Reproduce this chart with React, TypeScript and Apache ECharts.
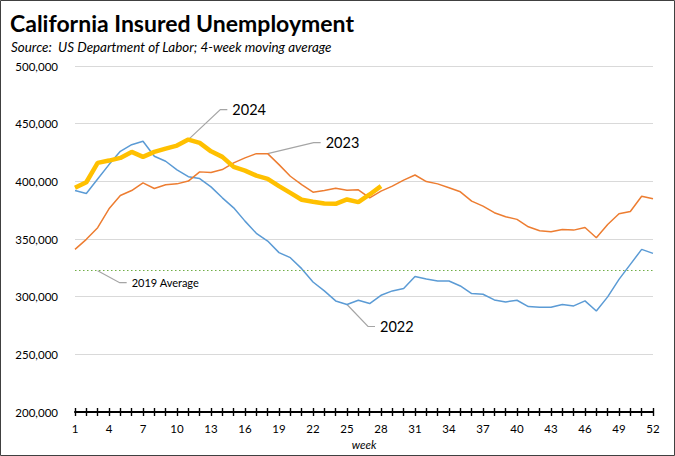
import React, { useEffect, useRef } from "react";
import * as echarts from "echarts";

const weeks: string[] = Array.from({ length: 52 }, (_, i) => String(i + 1));

const y2022 = [
  392000, 389500, 402000, 414500, 426000, 431800, 434700, 421700, 417400, 410000,
  404000, 402400, 395200, 385700, 377000, 365500, 354900, 348200, 338200, 333800,
  324300, 312700, 305000, 296300, 293200, 296900, 294000, 301200, 305000, 307000,
  317400, 315300, 313600, 313600, 309300, 302700, 302100, 297200, 295400, 296900,
  291400, 290800, 290800, 293200, 292000, 296300, 287600, 299800, 315000, 328000,
  341000, 337500,
];

const y2023 = [
  341000, 349700, 359800, 376200, 387700, 392000, 398700, 393800, 397000, 397800,
  400200, 408200, 407600, 410200, 416000, 420300, 424000, 424000, 414500, 404400,
  397200, 390600, 392000, 394000, 392300, 392600, 385700, 391500, 395800, 401000,
  405500, 399800, 397800, 394400, 390900, 382800, 378500, 372800, 369300, 367000,
  360600, 357200, 356300, 358300, 357700, 360000, 351100, 362600, 371900, 373900,
  387100, 384900,
];

const y2024 = [
  394400, 399200, 416000, 418000, 420300, 425500, 421200, 425500, 428400, 431000,
  436200, 433300, 426000, 421200, 412500, 409300, 405000, 402200, 395800, 390000,
  384000, 382300, 380800, 380500, 384300, 382000, 388600, 395800,
];

const avg2019 = 322500;

const FONT = "Lato";

function fmt(v: number) {
  return String(v).replace(/\B(?=(\d{3})+(?!\d))/g, ",");
}

export default function App() {
  const ref = useRef<HTMLDivElement>(null);

  useEffect(() => {
    if (!ref.current) return;
    const chart = echarts.init(ref.current, undefined, { renderer: "svg" });
    const tickStyle = { color: "#000", width: 1.4 };
    chart.setOption({
      animation: false,
      textStyle: { fontFamily: FONT },
      grid: { left: 75, right: 22, top: 66, bottom: 44, containLabel: false },
      title: [
        {
          text: "California Insured Unemployment",
          left: 5,
          top: 6,
          textStyle: { fontFamily: FONT, fontWeight: "bold", fontSize: 23, color: "#000" },
        },
        {
          text: "Source:  US Department of Labor; 4-week moving average",
          left: 6,
          top: 35,
          textStyle: { fontFamily: FONT, fontStyle: "italic", fontWeight: "normal", fontSize: 13.4, color: "#000" },
        },
      ],
      xAxis: [
        {
          type: "category",
          data: weeks,
          boundaryGap: false,
          axisLine: { lineStyle: { color: "#000", width: 2 } },
          axisTick: { show: true, interval: 0, length: 4, lineStyle: tickStyle },
          axisLabel: { interval: 2, margin: 10, fontSize: 11.5, color: "#000", fontFamily: FONT },
          splitLine: { show: false },
          name: "week",
          nameLocation: "middle",
          nameGap: 25,
          nameTextStyle: { fontStyle: "italic", fontSize: 11.5, color: "#000", fontFamily: FONT },
        },
        {
          type: "category",
          data: weeks,
          boundaryGap: false,
          position: "bottom",
          axisLine: { show: false },
          axisTick: { show: true, inside: true, interval: 0, length: 4, lineStyle: tickStyle },
          axisLabel: { show: false },
          splitLine: { show: false },
        },
      ],
      yAxis: {
        type: "value",
        min: 200000,
        max: 500000,
        interval: 50000,
        axisLine: { show: false },
        axisTick: { show: false },
        splitLine: { lineStyle: { color: "#d9d9d9", width: 1 } },
        axisLabel: { formatter: (v: number) => fmt(v), margin: 17, fontSize: 11.5, color: "#000", fontFamily: FONT },
      },
      series: [
        {
          name: "2022",
          type: "line",
          data: y2022,
          symbol: "none",
          lineStyle: { color: "#5b9bd5", width: 1.5 },
          markLine: {
            silent: true,
            symbol: "none",
            label: { show: false },
            lineStyle: { color: "#70ad47", type: [1.5, 2.5], width: 1.2, opacity: 1 },
            data: [{ yAxis: avg2019 }],
          },
        },
        {
          name: "2023",
          type: "line",
          data: y2023,
          symbol: "none",
          lineStyle: { color: "#ed7d31", width: 1.5 },
        },
        {
          name: "2024",
          type: "line",
          data: y2024,
          symbol: "none",
          lineStyle: { color: "#ffc000", width: 4.5 },
        },
      ],
    });

    const px = (i: number, v: number) =>
      chart.convertToPixel({ xAxisIndex: 0, yAxisIndex: 0 }, [i, v]) as number[];

    const leader = (
      start: number[],
      dx: number,
      dy: number,
      label: string,
      size: number
    ) => {
      const [x0, y0] = start;
      const x1 = x0 + dx;
      const y1 = y0 + dy;
      return [
        {
          type: "polyline",
          shape: { points: [[x0, y0], [x1, y1], [x1 + 7, y1]] },
          style: { stroke: "#a5a5a5", lineWidth: 1.2, fill: "none" },
          silent: true,
        },
        {
          type: "text",
          x: x1 + 12,
          y: y1,
          style: {
            text: label,
            fontFamily: FONT,
            fontSize: size,
            fill: "#000",
            textVerticalAlign: "middle",
            verticalAlign: "middle",
            textAlign: "left",
            align: "left",
          },
          silent: true,
        },
      ];
    };

    const graphics: any[] = [
      {
        type: "rect",
        shape: { x: 0.5, y: 0.5, width: 674, height: 455 },
        style: { stroke: "#404040", fill: "none", lineWidth: 1 },
        silent: true,
      },
      ...leader(px(10, y2024[10]), 32, -30, "2024", 14.5),
      ...leader(px(17, y2023[17]), 46, -11, "2023", 14.5),
      ...leader(px(24, y2022[24]), 21, 22, "2022", 14.5),
      ...leader(px(2.1, avg2019), 22, 12, "2019 Average", 11),
    ];
    chart.setOption({ graphic: graphics });

    return () => chart.dispose();
  }, []);

  return (
    <div
      ref={ref}
      style={{ position: "fixed", left: 0, top: 0, width: 675, height: 456, background: "#fff" }}
    />
  );
}
